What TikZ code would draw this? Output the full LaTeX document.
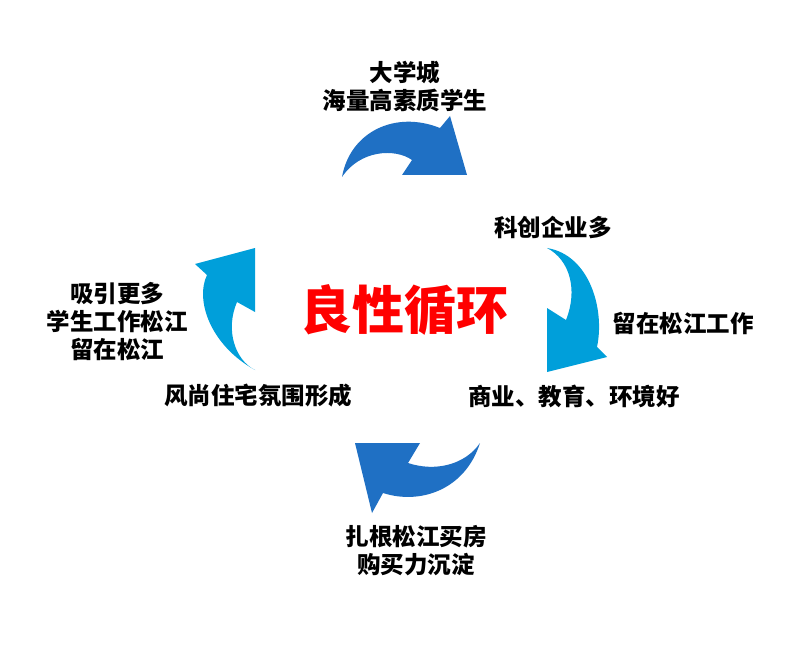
\documentclass[tikz,border=0pt]{standalone}
\usepackage{fontspec}
\setmainfont{Noto Sans CJK SC}
\definecolor{darkblue}{HTML}{1F70C4}
\definecolor{lightblue}{HTML}{009FDA}
\definecolor{redtext}{HTML}{FF0000}
\tikzset{
  lbl/.style={font=\fontsize{23.5}{28}\selectfont\bfseries, align=center, inner sep=0pt, text=black},
  darrow/.style={fill=darkblue, draw=none},
  larrow/.style={fill=lightblue, draw=none}
}
\begin{document}
\begin{tikzpicture}[x=1pt,y=-1pt]
\useasboundingbox[fill=white] (0,0) rectangle (809,671);
% top arrow
\path[darrow] (342,177) .. controls (350,132) and (395,110) .. (440,128) -- (450,116) -- (467,175) -- (402,175) -- (412,160) .. controls (395,148) and (360,150) .. (342,177) -- cycle;
% right arrow
\path[larrow] (547,248) .. controls (590,255) and (605,310) .. (597,347) -- (607,357) -- (547,372) -- (547,308) -- (566,320) .. controls (578,290) and (570,260) .. (547,248) -- cycle;
% bottom arrow
\path[darrow] (480,443) .. controls (465,490) and (420,505) .. (383,493) -- (372,513) -- (355,443) -- (420,443) -- (408,463) .. controls (435,472) and (465,465) .. (480,443) -- cycle;
% left arrow
\path[larrow] (255,370) .. controls (210,345) and (195,300) .. (207,275) -- (195,264) -- (255,248) -- (255,312) -- (237,302) .. controls (225,330) and (235,360) .. (255,370) -- cycle;
% labels
\node[lbl] (top) at (405,86) {大学城\\海量高素质学生};
\node[lbl] (ru) at (553,228) {科创企业多};
\node[lbl] (r) at (683,323) {留在松江工作};
\node[lbl] (rl) at (574,396) {商业、教育、环境好};
\node[lbl] (b) at (416,551) {扎根松江买房\\购买力沉淀};
\node[lbl] (ll) at (258,396) {风尚住宅氛围形成};
\node[lbl] (l) at (117,322) {吸引更多\\学生工作松江\\留在松江};
\node[inner sep=0pt, text=redtext, font=\fontsize{52}{58}\selectfont\bfseries] (c) at (404,310) {良性循环};
\end{tikzpicture}
\end{document}
